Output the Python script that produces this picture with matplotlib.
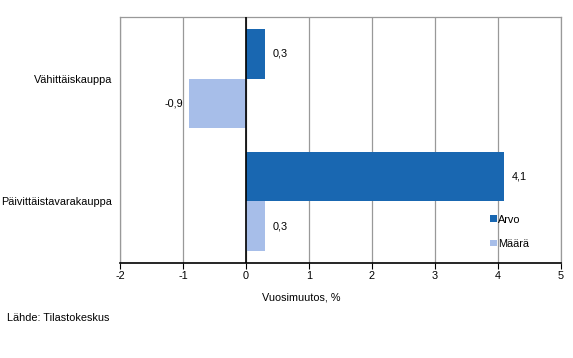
import matplotlib
matplotlib.use("Agg")
import matplotlib.pyplot as plt
import numpy as np

categories = ["Vähittäiskauppa", "Päivittäistavarakauppa"]
arvo = [0.3, 4.1]
maara = [-0.9, 0.3]
xticks = [-2, -1, 0, 1, 2, 3, 4, 5]

plt.rcParams["font.family"] = ["Liberation Sans", "DejaVu Sans"]
plt.rcParams["font.size"] = 7.8

fig = plt.figure(figsize=(5.73, 3.58), dpi=100)
ax = fig.add_axes([0.2094, 0.2654, 0.7696, 0.6871])

y = np.arange(len(categories))
h = 0.4
dark = "#1967b1"
light = "#a7bee9"

ax.barh(y - h / 2, arvo, height=h, color=dark, label="Arvo", zorder=3)
ax.barh(y + h / 2, maara, height=h, color=light, label="Määrä", zorder=3)

def fmt(v):
    return ("%.1f" % v).replace(".", ",")

for yy, v in zip(y - h / 2, arvo):
    ax.text(v + 0.12 if v >= 0 else v - 0.1, yy, fmt(v), va="center",
            ha="left" if v >= 0 else "right", zorder=4)
for yy, v in zip(y + h / 2, maara):
    ax.text(v + 0.12 if v >= 0 else v - 0.1, yy, fmt(v), va="center",
            ha="left" if v >= 0 else "right", zorder=4)

ax.set_xlim(-2, 5)
ax.set_ylim(1.5, -0.5)
ax.set_xticks(xticks)
ax.set_xticklabels([str(t) for t in xticks])
ax.set_yticks(y)
ax.set_yticklabels(categories)
ax.tick_params(axis="y", length=0, pad=5.5)
ax.tick_params(axis="x", length=4, color="black", direction="out", pad=2)

ax.grid(axis="x", color="#999999", linewidth=0.9, zorder=1)
ax.axvline(0, color="black", linewidth=1.2, zorder=4)

for s in ["top", "left", "right"]:
    ax.spines[s].set_color("#999999")
    ax.spines[s].set_linewidth(0.9)
ax.spines["bottom"].set_color("black")
ax.spines["bottom"].set_linewidth(1.2)

leg = ax.legend(loc="lower left", bbox_to_anchor=(0.83, 0.04), frameon=False,
                handlelength=0.6, handleheight=0.6, handletextpad=0.1,
                labelspacing=1.3, borderaxespad=0)

fig.text(262 / 573, 1 - 298 / 358, "Vuosimuutos, %", ha="left", va="center")
fig.text(7 / 573, 1 - 318 / 358, "Lähde: Tilastokeskus", ha="left", va="center")

fig.savefig("out.png", dpi=100)
